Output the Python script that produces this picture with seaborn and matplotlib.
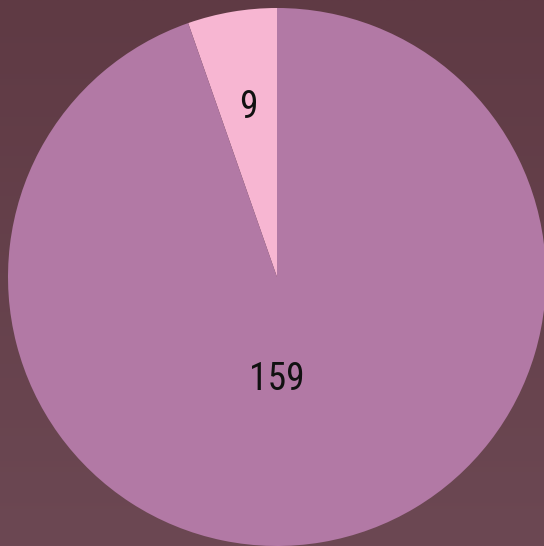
import numpy as np
import matplotlib
matplotlib.use("Agg")
import matplotlib.pyplot as plt
import seaborn as sns

# slice values (counter-clockwise from 12 o'clock)
labels = ["B", "A"]
values = [9, 159]
slice_colors = ["#f7b6d2", "#b279a5"]

sns.set_style("white")
plt.rcParams['font.family'] = ['Roboto Condensed', 'Liberation Sans Narrow', 'Roboto', 'DejaVu Sans']

fig = plt.figure(figsize=(5.44, 5.46), dpi=100)

# background gradient
bg = fig.add_axes([0, 0, 1, 1])
grad = np.linspace(0, 1, 256).reshape(-1, 1)
cmap = matplotlib.colors.LinearSegmentedColormap.from_list("bg", ["#5f3a44", "#6c4853"])
bg.imshow(grad, aspect="auto", cmap=cmap, extent=[0, 1, 0, 1], origin="upper")
bg.axis("off")

ax = fig.add_axes([8 / 544, 0, 538 / 544, 538 / 546])
wedges, texts = ax.pie(values, colors=slice_colors, startangle=90, counterclock=True,
                       labels=[str(v) for v in values], labeldistance=0.64,
                       wedgeprops=dict(linewidth=0))
for t in texts:
    t.set_fontsize(27)
    t.set_color("#111111")
    t.set_ha("center")
    t.set_va("center")
# main slice label sits below the centre
texts[1].set_position((0, -0.38))
ax.set_aspect("equal")
ax.set_xlim(-1, 1)
ax.set_ylim(-1, 1)
ax.axis("off")

fig.savefig("out.png", dpi=100)
